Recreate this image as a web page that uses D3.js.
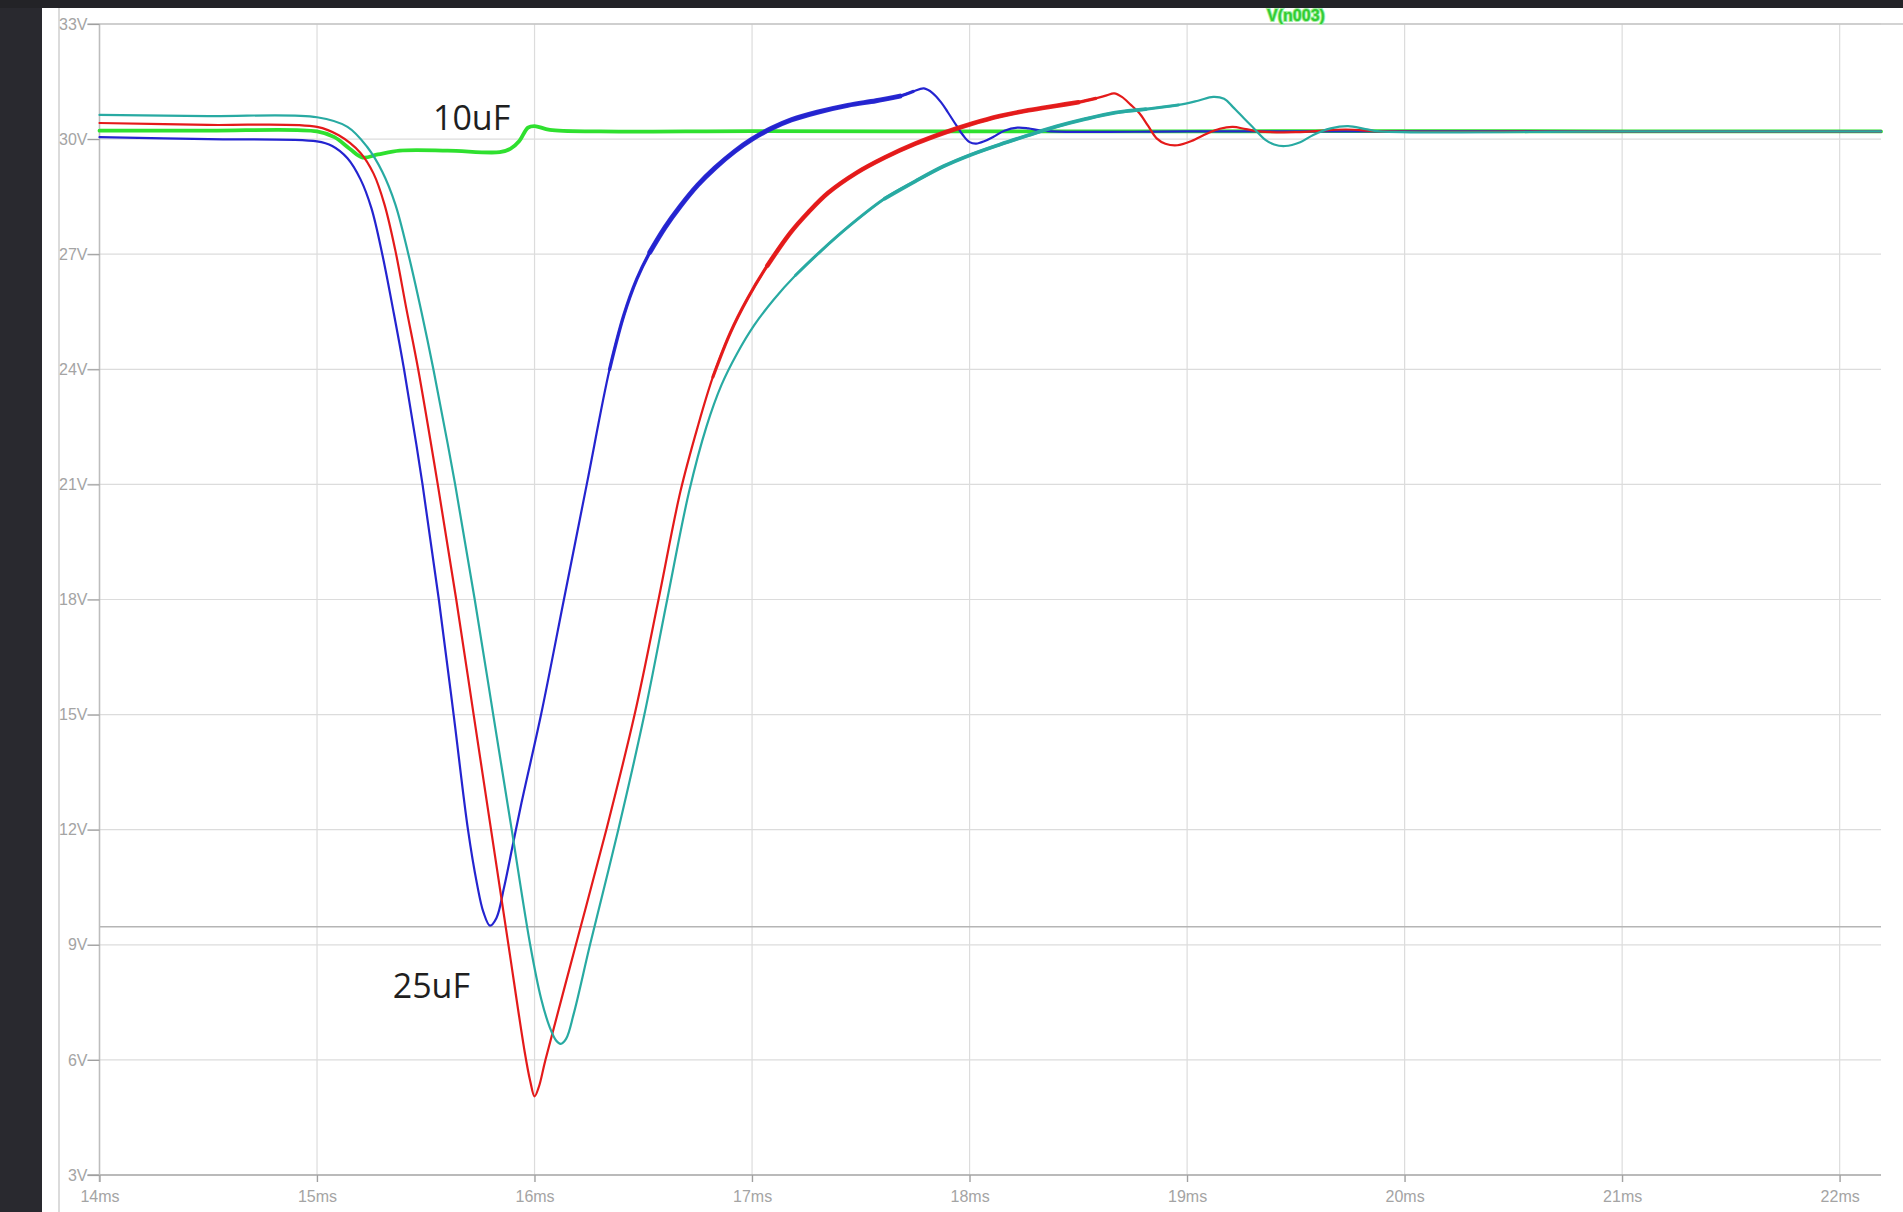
<!DOCTYPE html>
<html><head><meta charset="utf-8">
<script src="https://cdn.jsdelivr.net/npm/d3@7"></script>
<style>html,body{margin:0;padding:0;background:#29292f;overflow:hidden}</style>
</head><body><svg id="c" width="1903" height="1212"></svg>
<script>
// ---------- data ----------
const xTickValues = [14, 15, 16, 17, 18, 19, 20, 21, 22];
const xTickLabels = ["14ms","15ms","16ms","17ms","18ms","19ms","20ms","21ms","22ms"];
const yTickValues = [3, 6, 9, 12, 15, 18, 21, 24, 27, 30, 33];
const yTickLabels = ["3V","6V","9V","12V","15V","18V","21V","24V","27V","30V","33V"];
const xDomain = [14, 22.19];
const yDomain = [3, 33];
const traceLabel = "V(n003)";
const cursorLevel = 9.47;

const greenData = [
  [14.0,30.22],[14.5,30.22],[15.0,30.2],[15.08,30.05],[15.15,29.75],[15.21,29.52],
  [15.28,29.6],[15.38,29.7],[15.6,29.7],[15.84,29.66],[15.89,29.75],[15.93,29.95],
  [15.97,30.3],[16.0,30.34],[16.07,30.24],[16.3,30.2],[17.0,30.21],[18.0,30.2],
  [19.0,30.2],[20.0,30.21],[21.0,30.2],[22.19,30.2]
];
const blueData = [
  [14.0,30.05],[14.5,30.0],[15.0,29.94],[15.07,29.82],[15.14,29.5],[15.2,28.95],
  [15.25,28.2],[15.3,27.0],[15.35,25.55],[15.4,24.0],[15.485,21.0],[15.56,18.0],
  [15.628,15.0],[15.694,12.0],[15.735,10.6],[15.765,9.85],[15.795,9.5],[15.825,9.7],
  [15.86,10.5],[15.9,11.6],[15.94,12.7],[16.03,15.0],[16.135,18.0],[16.24,21.0],
  [16.345,24.0],[16.41,25.4],[16.47,26.35],[16.53,27.05],[16.6,27.7],[16.67,28.25],
  [16.75,28.8],[16.83,29.25],[16.92,29.68],[17.0,30.0],[17.09,30.28],[17.18,30.5],
  [17.3,30.7],[17.44,30.88],[17.57,31.0],[17.68,31.12],[17.74,31.24],[17.79,31.32],
  [17.83,31.2],[17.87,30.95],[17.9,30.7],[17.94,30.35],[17.97,30.1],[18.0,29.92],
  [18.03,29.88],[18.07,29.95],[18.11,30.06],[18.16,30.22],[18.22,30.3],[18.27,30.28],
  [18.33,30.22],[18.45,30.19],[19.0,30.2],[20.0,30.2],[21.0,30.2],[22.19,30.2]
];
const redData = [
  [14.0,30.42],[14.5,30.37],[15.0,30.32],[15.1,30.1],[15.2,29.64],[15.26,29.1],
  [15.31,28.3],[15.36,27.1],[15.41,25.6],[15.465,24.0],[15.555,21.0],[15.64,18.0],
  [15.72,15.0],[15.8,12.0],[15.88,9.0],[15.955,6.2],[15.98,5.45],[16.0,5.05],
  [16.02,5.3],[16.05,6.0],[16.19,9.0],[16.33,12.0],[16.46,15.0],[16.57,18.0],
  [16.67,20.8],[16.75,22.5],[16.82,23.8],[16.9,24.95],[16.98,25.85],[17.07,26.7],
  [17.175,27.55],[17.26,28.1],[17.35,28.6],[17.48,29.12],[17.61,29.52],[17.75,29.88],
  [17.88,30.16],[18.01,30.4],[18.14,30.6],[18.27,30.75],[18.4,30.87],[18.5,30.96],
  [18.58,31.06],[18.63,31.14],[18.665,31.19],[18.7,31.1],[18.74,30.9],[18.78,30.68],
  [18.82,30.35],[18.86,30.02],[18.9,29.88],[18.955,29.84],[19.02,29.95],[19.09,30.14],
  [19.15,30.27],[19.21,30.32],[19.27,30.26],[19.33,30.2],[19.5,30.18],[19.73,30.25],
  [19.9,30.2],[21.0,30.2],[22.19,30.2]
];
const tealData = [
  [14.0,30.63],[14.5,30.6],[15.0,30.57],[15.14,30.32],[15.23,29.8],[15.3,29.15],
  [15.36,28.3],[15.42,27.0],[15.48,25.5],[15.535,24.0],[15.635,21.0],[15.725,18.0],
  [15.81,15.0],[15.895,12.0],[15.98,9.0],[16.03,7.6],[16.07,6.85],[16.1,6.5],
  [16.12,6.42],[16.145,6.55],[16.18,7.2],[16.255,9.0],[16.385,12.0],[16.505,15.0],
  [16.61,18.0],[16.71,20.8],[16.79,22.5],[16.86,23.6],[16.93,24.4],[17.01,25.15],
  [17.1,25.82],[17.2,26.45],[17.31,27.05],[17.45,27.75],[17.61,28.45],[17.75,28.9],
  [17.88,29.29],[18.01,29.6],[18.14,29.86],[18.27,30.1],[18.4,30.33],[18.53,30.52],
  [18.67,30.69],[18.81,30.78],[18.96,30.89],[19.05,31.0],[19.12,31.1],[19.17,31.05],
  [19.21,30.84],[19.26,30.55],[19.3,30.32],[19.36,29.98],[19.4,29.86],[19.45,29.82],
  [19.52,29.92],[19.58,30.11],[19.66,30.28],[19.74,30.34],[19.82,30.26],[19.885,30.2],
  [21.0,30.2],[22.19,30.2]
];
// time ranges where the simulated trace is noisy (drawn as wider bands: light, heavy)
const blueNoisy = [[16.3, 17.74], [16.5, 17.7]];
const redNoisy = [[16.8, 18.6], [17.0, 18.55]];
const tealNoisy = [[17.15, 19.02], [17.5, 18.95]];
const annotations = [
  {text: "10uF", t: 15.533, v: 30.24},
  {text: "25uF", t: 15.348, v: 7.62}
];

// ---------- drawing ----------
const svg = d3.select("#c");
const W = 1903, H = 1212;
const pLeft = 99.5, pRight = 1881, pTop = 24, pBottom = 1175;

const x = d3.scaleLinear().domain(xDomain).range([pLeft, pRight]);
const y = d3.scaleLinear().domain(yDomain).range([pBottom, pTop]);

svg.append("rect").attr("width", W).attr("height", H).attr("fill", "#29292f");
svg.append("rect").attr("x", 42).attr("y", 8).attr("width", W - 42).attr("height", H - 8).attr("fill", "#ffffff");
svg.append("line").attr("x1", 59).attr("x2", 59).attr("y1", 8).attr("y2", H)
  .attr("stroke", "#cfcfcf").attr("stroke-width", 1.5);

// grid
const grid = svg.append("g");
grid.selectAll(".vg").data(xTickValues).join("line")
  .attr("x1", d => x(d)).attr("x2", d => x(d)).attr("y1", pTop).attr("y2", pBottom + 7)
  .attr("stroke", "#dcdcdc").attr("stroke-width", 1.2);
grid.selectAll(".hg").data(yTickValues).join("line")
  .attr("x1", pLeft - 12).attr("x2", pRight).attr("y1", d => y(d)).attr("y2", d => y(d))
  .attr("stroke", "#dcdcdc").attr("stroke-width", 1.2);

// cursor line
svg.append("line").attr("x1", pLeft).attr("x2", pRight).attr("y1", y(cursorLevel)).attr("y2", y(cursorLevel))
  .attr("stroke", "#b5b5b5").attr("stroke-width", 1.3);

// frame / axes
svg.append("line").attr("x1", pLeft - 12).attr("x2", W).attr("y1", pTop).attr("y2", pTop)
  .attr("stroke", "#c4c4c4").attr("stroke-width", 1.5);
svg.append("line").attr("x1", pLeft - 12).attr("x2", pRight).attr("y1", pBottom).attr("y2", pBottom)
  .attr("stroke", "#a8a8a8").attr("stroke-width", 1.5);
svg.append("line").attr("x1", pLeft).attr("x2", pLeft).attr("y1", pTop).attr("y2", pBottom + 7)
  .attr("stroke", "#bdbdbd").attr("stroke-width", 1.5);

// axes via d3
const xAxis = d3.axisBottom(x).tickValues(xTickValues).tickFormat((d, i) => xTickLabels[i]).tickSize(7).tickPadding(9);
const yAxis = d3.axisLeft(y).tickValues(yTickValues).tickFormat((d, i) => yTickLabels[i]).tickSize(12).tickPadding(0);
const gx = svg.append("g").attr("transform", `translate(0,${pBottom})`).call(xAxis);
const gy = svg.append("g").attr("transform", `translate(${pLeft},0)`).call(yAxis);
[gx, gy].forEach(g => {
  g.select(".domain").remove();
  g.selectAll(".tick line").attr("stroke", "#a0a0a0").attr("stroke-width", 1.2);
  g.selectAll(".tick text").attr("fill", "#a4a4a4")
    .style("font-family", "'Liberation Sans', Arial, sans-serif").style("font-size", "16px");
});

// traces
const line = d3.line().x(d => x(d[0])).y(d => y(d[1])).curve(d3.curveCatmullRom.alpha(0.5));
const within = (data, r) => data.filter(d => d[0] >= r[0] && d[0] <= r[1]);
const traces = svg.append("g").attr("fill", "none").attr("stroke-linejoin", "round").attr("stroke-linecap", "round");

function trace(data, color, w, noisy, nw) {
  traces.append("path").attr("d", line(data)).attr("stroke", color).attr("stroke-width", w);
  if (noisy) {
    noisy.forEach((r, i) => {
      traces.append("path").attr("d", line(within(data, r))).attr("stroke", color)
        .attr("stroke-width", nw[i]).attr("stroke-opacity", 0.95);
    });
  }
}
trace(greenData, "#2fe02f", 3.8, null, 0);
trace(blueData, "#2424d0", 2.2, blueNoisy, [3.4, 5]);
trace(redData, "#e41a1a", 2.2, redNoisy, [3.2, 4.6]);
trace(tealData, "#28aaa2", 2.2, tealNoisy, [3.0, 3.8]);

// annotations
svg.selectAll(".ann").data(annotations).join("text")
  .attr("x", d => x(d.t)).attr("y", d => y(d.v))
  .attr("fill", "#1f1f1f")
  .style("font-family", "'Open Sans', sans-serif").style("font-size", "34px")
  .text(d => d.text);

// trace label (partially hidden by top band)
svg.append("text").attr("x", 1296).attr("y", 21).attr("text-anchor", "middle")
  .attr("fill", "#33cc33").attr("stroke", "#9ff09f").attr("stroke-width", 2).attr("paint-order", "stroke")
  .style("font-family", "'Liberation Sans', Arial, sans-serif").style("font-size", "16px").style("font-weight", "bold")
  .text(traceLabel);
svg.append("rect").attr("width", W).attr("height", 8).attr("fill", "#232327");
</script></body></html>
